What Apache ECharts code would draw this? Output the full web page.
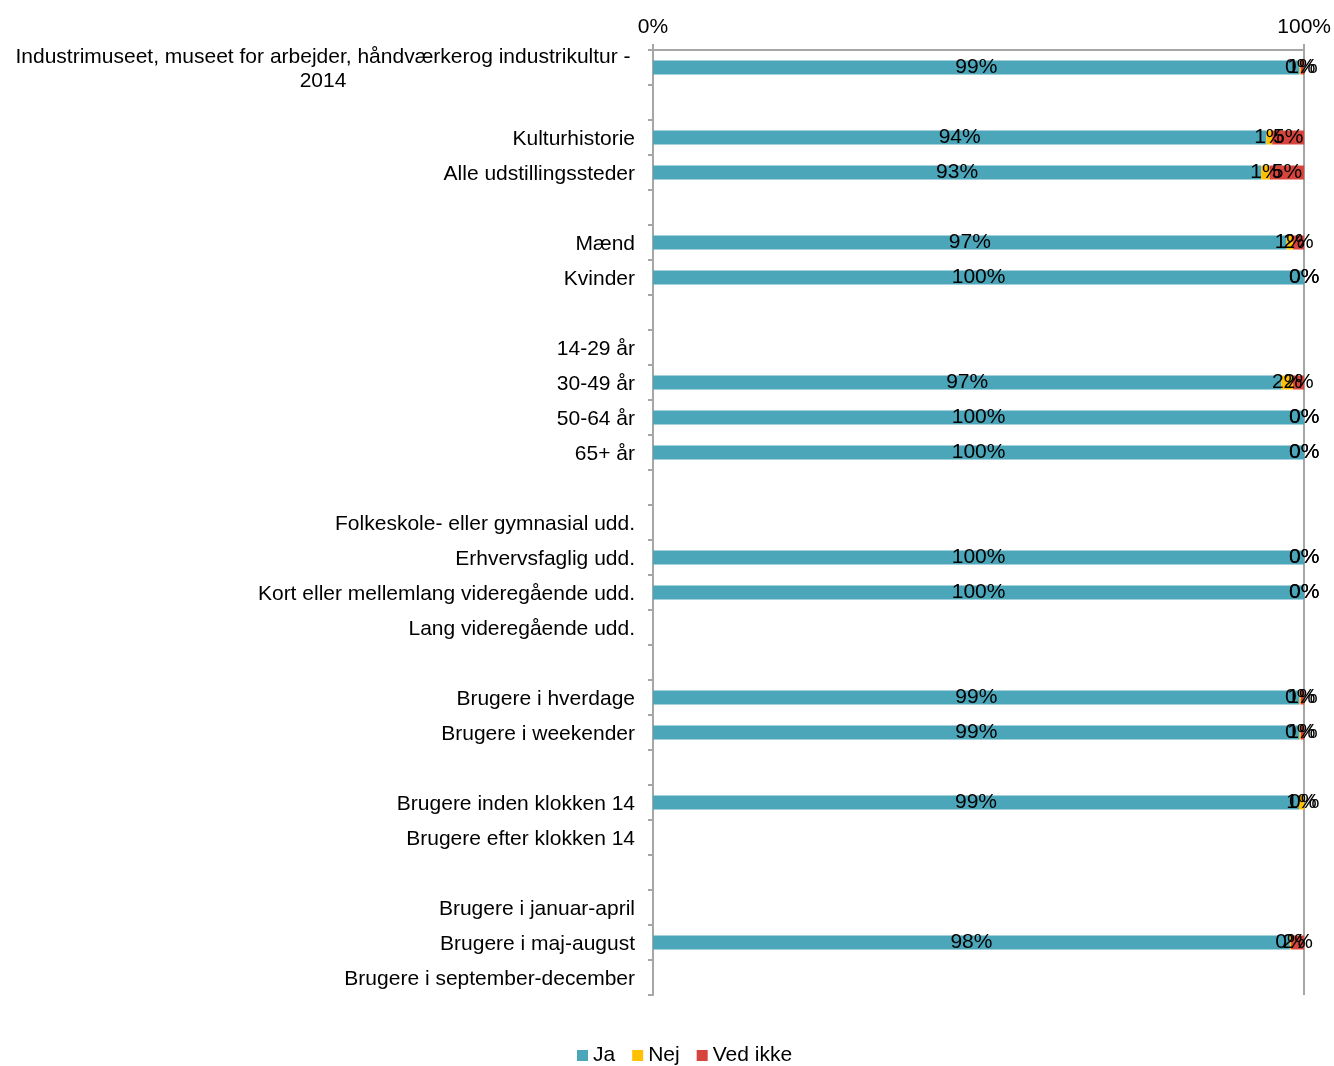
<!DOCTYPE html>
<html><head><meta charset="utf-8">
<script src="https://cdn.jsdelivr.net/npm/echarts@6/dist/echarts.min.js"></script>
<style>html,body{margin:0;padding:0;background:#fff}#c{width:1334px;height:1066px}</style>
</head><body><div id="c"></div>
<script>
const categories = [
  "Industrimuseet, museet for arbejder, håndværkerog industrikultur -\n2014",
  " ",
  "Kulturhistorie",
  "Alle udstillingssteder",
  "  ",
  "Mænd",
  "Kvinder",
  "   ",
  "14-29 år",
  "30-49 år",
  "50-64 år",
  "65+ år",
  "    ",
  "Folkeskole- eller gymnasial udd.",
  "Erhvervsfaglig udd.",
  "Kort eller mellemlang videregående udd.",
  "Lang videregående udd.",
  "     ",
  "Brugere i hverdage",
  "Brugere i weekender",
  "      ",
  "Brugere inden klokken 14",
  "Brugere efter klokken 14",
  "       ",
  "Brugere i januar-april",
  "Brugere i maj-august",
  "Brugere i september-december"
];
const ja      = [99.3,'-',94.2,93.4,'-',97.3,100,'-','-',96.5,100,100,'-','-',100,100,'-','-',99.3,99.3,'-',99.2,'-','-','-',97.8,'-'];
const nej     = [0.2,'-',0.9,1.3,'-',1.0,0,'-','-',1.8,0,0,'-','-',0,0,'-','-',0.2,0.2,'-',0.8,'-','-','-',0.2,'-'];
const vedIkke = [0.5,'-',4.9,5.3,'-',1.7,0,'-','-',1.7,0,0,'-','-',0,0,'-','-',0.5,0.5,'-',0,'-','-','-',2.0,'-'];
const seriesNames = ["Ja","Nej","Ved ikke"];
const colors = ["#4BA6BA","#FFC000","#D7443C"];
const xTicks = [0,100];

const FONT = 'Liberation Sans, Arial, sans-serif';
const chart = echarts.init(document.getElementById('c'));
const lbl = {
  show: true, position: 'inside', color: '#000', fontSize: 21, fontFamily: FONT,
  offset:[0,2],
  formatter: p => Math.round(p.value) + '%'
};
function mk(name, data, color){
  return {name, type:'bar', stack:'t', data, barWidth:14, itemStyle:{color}, label:lbl, labelLayout:{hideOverlap:false}};
}
chart.setOption({
  animation:false,
  textStyle:{fontFamily:FONT},
  grid:{left:653, right:29, top:50, bottom:71, containLabel:false},
  legend:{top:1040, left:572, itemWidth:11, itemHeight:11, itemGap:17,
    icon:'rect', textStyle:{fontSize:21, color:'#000', fontFamily:FONT},
    data:seriesNames},
  xAxis:{type:'value', position:'top', min:0, max:100, interval:100,
    axisLine:{show:true, lineStyle:{color:'#A6A6A6', width:2}},
    axisTick:{show:true, length:6, lineStyle:{color:'#A6A6A6', width:2}},
    axisLabel:{fontSize:21, color:'#000', formatter: v => xTicks.includes(v) ? v + '%' : '', margin:12},
    splitLine:{show:true, lineStyle:{color:'#A6A6A6', width:2}}},
  yAxis:{type:'category', inverse:true, data:categories,
    axisLine:{show:true, lineStyle:{color:'#A6A6A6', width:2}},
    axisTick:{show:true, length:5, lineStyle:{color:'#A6A6A6', width:2}},
    axisLabel:{fontSize:21, color:'#000', margin:18, interval:0, padding:[4,0,0,0],
      formatter: v => v.indexOf('\n')>=0 ? v.split('\n').map(s=>'{c|'+s+'}').join('\n') : v,
      rich:{c:{width:624, align:'center', fontSize:21, color:'#000', lineHeight:24}}}},
  series:[mk(seriesNames[0], ja, colors[0]), mk(seriesNames[1], nej, colors[1]), mk(seriesNames[2], vedIkke, colors[2])]
});
</script></body></html>
